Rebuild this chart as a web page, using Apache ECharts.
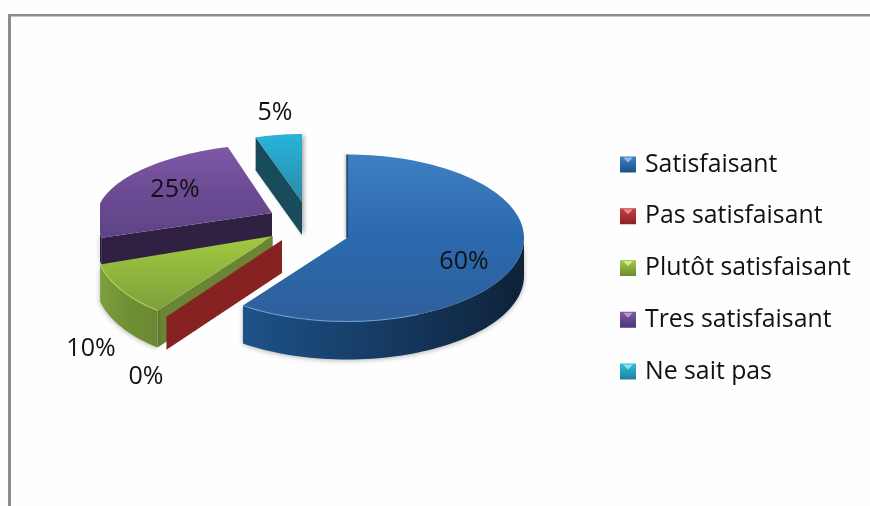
<!DOCTYPE html>
<html>
<head>
<meta charset="utf-8">
<script src="https://cdn.jsdelivr.net/npm/echarts@6/dist/echarts.min.js"></script>
<style>html,body{margin:0;padding:0;background:#fefefe}#c{width:870px;height:506px}</style>
</head>
<body>
<div id="c"></div>
<script>
const categories = ['Satisfaisant', 'Pas satisfaisant', 'Plutôt satisfaisant', 'Tres satisfaisant', 'Ne sait pas'];
const values = [60, 0, 10, 25, 5];

// layout of the tilted, exploded pie (one entry per slice)
const apexX = [347, 282, 272.7, 272, 302];
const apexY = [238, 240, 236, 213, 202];
const radiusX = [177, 177, 177, 175, 150];
const radiusYBack = [83.5, 88, 88, 69.5, 68];
const radiusYFront = [83.5, 95, 92, 80, 68];
const shear = [0, -0.15, -0.15, -0.15, 0];
const depth = [38, 33, 37, 28, 33];
const leftLimit = [0, 0, 0, 100, 0];
const drawOrder = [9, 6, 5, 4, 3];
const labelX = [464, 146, 91, 175, 275];
const labelY = [262, 377, 349, 190, 113];

// legend layout
const legendMarkerX = 620;
const legendMarkerTop = 154.5;
const legendStep = 51.75;

const grad = (a, b, c) => ({type: 'linear', x: 0, y: 0, x2: 0, y2: 1,
  colorStops: c ? [{offset: 0, color: a}, {offset: .5, color: b}, {offset: 1, color: c}]
                : [{offset: 0, color: a}, {offset: 1, color: b}]});
const hgrad = (a, b, c) => ({type: 'linear', x: 0, y: 0, x2: 1, y2: 0,
  colorStops: [{offset: 0, color: a}, {offset: .5, color: b}, {offset: 1, color: c}]});

const topFill = [grad('#3f7fc4', '#2b69ae', '#2f5f9b'), grad('#8a2323', '#8a2323'), grad('#a2c93f', '#8fb53e', '#7f9f3c'), grad('#8058a6', '#6c4b94', '#5c4485'), grad('#27b4da', '#2b8aa6')];
const wallFill = [hgrad('#1e5288', '#163a63', '#0e2238'), hgrad('#8a2323', '#8a2323', '#8a2323'), hgrad('#7f9e3c', '#6f8f34', '#6a8832'), hgrad('#2f2042', '#2f2042', '#2f2042'), hgrad('#194c5c', '#194c5c', '#194c5c')];
const faceFill = ['#123a66', '#862222', '#6b8534', '#302143', '#184b5b'];
const rimColor = ['#6aa3dc', null, '#b5d75c', null, null];
const faceAngles = [[], [216], [216], [252], [342]];
const legendFill = [grad('#3f82c8', '#1c4f87'), grad('#c94040', '#8a2323'), grad('#a8cc4a', '#6b8a2f'), grad('#8058a6', '#4c3478'), grad('#2fc0e0', '#1f7f9c')];
const legendGlint = ['#8db9e6', '#e48a8a', '#d4e88e', '#b49ad0', '#8fe0f2'];

// start and end angles (degrees clockwise from 12 o'clock), from the values
const total = values.reduce((s, v) => s + v, 0);
const angleSpan = values.map((v, i) => {
  const before = values.slice(0, i).reduce((s, x) => s + x, 0);
  return [before / total * 360, (before + v) / total * 360];
});

function rim(i, deg, dy) {
  const r = deg * Math.PI / 180;
  const c = Math.cos(r);
  const y = -(c < 0 ? radiusYFront[i] : radiusYBack[i]) * c;
  const x = apexX[i] + radiusX[i] * Math.sin(r) + shear[i] * y;
  return [Math.max(x, leftLimit[i]), apexY[i] + y + (dy || 0)];
}
function arc(i, a, b, dy) {
  const pts = [], n = Math.max(2, Math.ceil(Math.abs(b - a) / 2));
  for (let k = 0; k <= n; k++) pts.push(rim(i, a + (b - a) * k / n, dy));
  return pts;
}

function renderSlice(params, api) {
  const i = params.seriesIndex;
  const [a, b] = angleSpan[i];
  const kids = [];
  const d = depth[i];
  const apex = [apexX[i], apexY[i]];
  faceAngles[i].forEach(deg => {
    kids.push({type: 'polygon', shape: {points: [apex, rim(i, deg), rim(i, deg, d), [apex[0], apex[1] + d]]},
      style: {fill: faceFill[i]}});
  });
  const wa = Math.max(a, 90), wb = Math.min(b, 270);
  if (wb > wa) {
    const top = arc(i, wa, wb), bottom = arc(i, wb, wa, d);
    kids.push({type: 'polygon', shape: {points: top.concat(bottom)},
      style: {fill: wallFill[i], shadowBlur: 5, shadowColor: 'rgba(0,0,0,0.3)', shadowOffsetY: 1}});
  }
  if (b > a) {
    kids.push({type: 'polygon', shape: {points: [apex].concat(arc(i, a, b))},
      style: {fill: topFill[i]}});
    if (rimColor[i]) {
      kids.push({type: 'polyline', shape: {points: arc(i, Math.max(wa, b - 60), wb)},
        style: {stroke: rimColor[i], lineWidth: 1.2, fill: 'none', opacity: .8}});
    }
  }
  if (i === 0) {
    kids.push({type: 'polyline', shape: {points: [rim(i, a), apex]},
      style: {stroke: '#1a3f6b', lineWidth: 1.4, fill: 'none', shadowBlur: 3, shadowColor: 'rgba(0,0,0,.4)', shadowOffsetX: -1}});
  }
  if (i === 4) {
    kids.unshift({type: 'polygon', shape: {points: [apex, rim(i, b), rim(i, a, d), [apex[0], apex[1] + d]]},
      style: {fill: '#c9c9c9', shadowBlur: 4, shadowColor: 'rgba(0,0,0,.35)', shadowOffsetX: 2}});
  }
  kids.push({type: 'text', style: {text: api.value(0) + '%', x: labelX[i], y: labelY[i],
    align: 'center', verticalAlign: 'middle', fontSize: 25, fontFamily: 'Open Sans', fill: '#111'}, z2: 50});
  return {type: 'group', children: kids};
}

const chart = echarts.init(document.getElementById('c'), null, {renderer: 'canvas'});
chart.setOption({
  animation: false,
  backgroundColor: '#fefefe',
  tooltip: {show: false},
  legend: {
    orient: 'vertical', left: legendMarkerX - 5, top: 144.5, icon: 'rect', itemWidth: 16, itemHeight: 16,
    itemGap: legendStep - 30, selectedMode: false, data: categories,
    textStyle: {fontFamily: 'Open Sans', fontSize: 24.8, color: '#111', padding: [0, 0, 0, 4], lineHeight: 30}
  },
  series: categories.map((name, i) => ({
    type: 'custom', name, coordinateSystem: 'none', z: drawOrder[i],
    itemStyle: {color: legendFill[i]}, renderItem: renderSlice, data: [[values[i]]], silent: true
  })),
  graphic: [
    {type: 'rect', shape: {x: 8, y: 14, width: 862, height: 2.5}, style: {fill: '#8e8c90'}},
    {type: 'rect', shape: {x: 8, y: 14, width: 3, height: 492}, style: {fill: '#8e8c90'}}
  ].concat(categories.map((name, i) => {
    const x = legendMarkerX, y = legendMarkerTop + i * legendStep;
    return {type: 'polygon', z: 20, shape: {points: [[x + 3, y + 3], [x + 13, y + 3], [x + 8, y + 8]]},
      style: {fill: legendGlint[i]}};
  }))
});
</script>
</body>
</html>
